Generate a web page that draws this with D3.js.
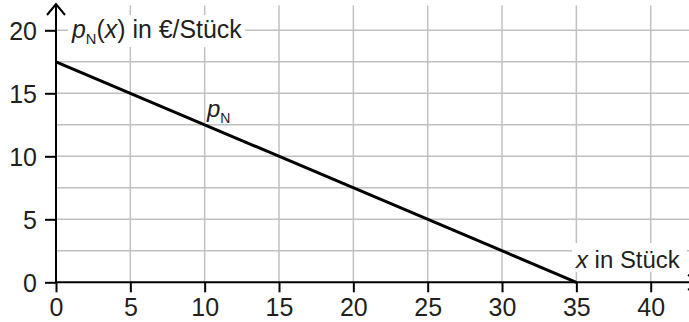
<!DOCTYPE html>
<html><head><meta charset="utf-8">
<script src="https://cdn.jsdelivr.net/npm/d3@7"></script>
<style>body{margin:0;background:#fff;} svg{display:block;}</style>
</head><body>
<svg id="c" width="689" height="322"></svg>
<script>
const quantities = [0, 35];          // x in Stück
const prices = [17.5, 0];            // p_N(x) in €/Stück
const xTickValues = [0, 5, 10, 15, 20, 25, 30, 35, 40];
const yTickValues = [0, 5, 10, 15, 20];
const yGridValues = [2.5, 5, 7.5, 10, 12.5, 15, 17.5, 20];

const svg = d3.select("#c");
const x = d3.scaleLinear().domain([0, 40]).range([56, 650.7]);
const y = d3.scaleLinear().domain([0, 20]).range([282.3, 30.3]);
const font = "'Liberation Sans', Arial, Helvetica, sans-serif";
const txt = "#231f20";
const fs = 22;
const tfs = 25;

// grid
const g = svg.append("g");
g.selectAll("line.vg").data(xTickValues.filter(d => d > 0)).join("line")
  .attr("x1", d => x(d)).attr("x2", d => x(d))
  .attr("y1", y(0)).attr("y2", 5.5)
  .attr("stroke", "#c0c0c0").attr("stroke-width", 1.5);
g.selectAll("line.hg").data(yGridValues).join("line")
  .attr("x1", x(0)).attr("x2", 689)
  .attr("y1", d => y(d)).attr("y2", d => y(d))
  .attr("stroke", "#c0c0c0").attr("stroke-width", 1.5);

// axes with d3
const xAxis = d3.axisBottom(x).tickValues(xTickValues).tickSize(10).tickPadding(6).tickFormat(d3.format("d"));
const yAxis = d3.axisLeft(y).tickValues(yTickValues).tickSize(11).tickPadding(8).tickFormat(d3.format("d"));
const ax = svg.append("g").attr("transform", `translate(0,${y(0)})`).call(xAxis);
const ay = svg.append("g").attr("transform", `translate(${x(0)},0)`).call(yAxis);
[ax, ay].forEach(a => {
  a.select(".domain").remove();
  a.selectAll(".tick line").attr("stroke", "#000").attr("stroke-width", 2);
  a.selectAll(".tick text").attr("fill", txt).attr("font-family", font).attr("font-size", tfs);
});
ax.attr("font-size", tfs).attr("font-family", font);
ay.attr("font-size", tfs).attr("font-family", font);
ay.selectAll(".tick text").attr("dy", "0.36em");

// axis lines with arrows
svg.append("line").attr("x1", x(0)).attr("x2", 699).attr("y1", y(0)).attr("y2", y(0))
  .attr("stroke", "#000").attr("stroke-width", 2);
svg.append("path").attr("d", `M688,${y(0) - 7.5} L699,${y(0)} L688,${y(0) + 7.5}`)
  .attr("fill", "none").attr("stroke", "#000").attr("stroke-width", 2);
svg.append("line").attr("x1", x(0)).attr("x2", x(0)).attr("y1", y(0)).attr("y2", 4)
  .attr("stroke", "#000").attr("stroke-width", 2);
svg.append("path").attr("d", `M${x(0) - 9},15 L${x(0)},4 L${x(0) + 9},15`)
  .attr("fill", "none").attr("stroke", "#000").attr("stroke-width", 2);

// fit a label's font size so it spans a target width
function fitLabel(sel, targetW) {
  const w = sel.node().getBBox().width;
  const k = targetW / w;
  sel.style("font-size", (fs * k) + "px");
  sel.selectAll("tspan.sub").attr("font-size", (13 * k) + "px");
}

// y-axis label
const ybg = svg.append("rect").attr("fill", "#fff");
const yl = svg.append("text").attr("x", 72).attr("y", 38).attr("fill", txt)
  .style("font-family", font).style("font-size", fs + "px");
yl.append("tspan").attr("font-style", "italic").text("p");
yl.append("tspan").attr("class", "sub").attr("font-size", "13px").attr("dy", 6).text("N");
yl.append("tspan").attr("dy", -6).text("(");
yl.append("tspan").attr("font-style", "italic").text("x");
yl.append("tspan").text(") in €/Stück");
fitLabel(yl, 172);
const yb = yl.node().getBBox();
ybg.attr("x", yb.x - 3).attr("y", yb.y).attr("width", yb.width + 6).attr("height", yb.height);

// x-axis label
const xbg = svg.append("rect").attr("fill", "#fff");
const xl = svg.append("text").attr("x", 576).attr("y", 268).attr("fill", txt)
  .style("font-family", font).style("font-size", fs + "px");
xl.append("tspan").attr("font-style", "italic").text("x");
xl.append("tspan").text(" in Stück");
fitLabel(xl, 106);
const xb = xl.node().getBBox();
xbg.attr("x", xb.x - 3).attr("y", xb.y - 3).attr("width", xb.width + 10).attr("height", xb.height + 2);

// demand line
const pts = quantities.map((q, i) => [q, prices[i]]);
svg.append("path").datum(pts)
  .attr("d", d3.line().x(d => x(d[0])).y(d => y(d[1])))
  .attr("fill", "none").attr("stroke", "#000").attr("stroke-width", 3);

const pl = svg.append("text").attr("x", 207).attr("y", 117).attr("fill", txt)
  .style("font-family", font).style("font-size", "24px");
pl.append("tspan").attr("font-style", "italic").text("p");
pl.append("tspan").attr("font-size", "14px").attr("dy", 6).text("N");
</script>
</body></html>
